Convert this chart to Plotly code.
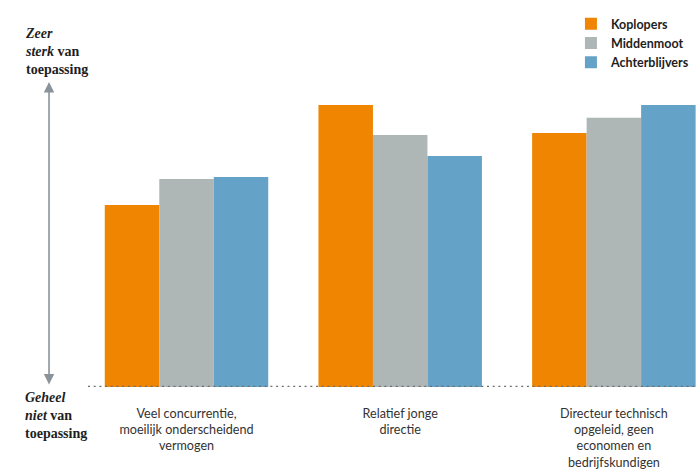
import plotly.graph_objects as go

# Categories (line breaks as they appear under each group)
categories = [
    "Veel concurrentie,<br>moeilijk onderscheidend<br>vermogen",
    "Relatief jonge<br>directie",
    "Directeur technisch<br>opgeleid, geen<br>economen en<br>bedrijfskundigen",
]

# Relative degree of application (0 = geheel niet, 100 = zeer sterk)
koplopers = [64.5, 100.0, 90.1]
middenmoot = [73.8, 89.4, 95.5]
achterblijvers = [74.5, 81.9, 100.0]

series_names = ["Koplopers", "Middenmoot", "Achterblijvers"]
series_values = [koplopers, middenmoot, achterblijvers]
series_colors = ["#EF8500", "#AFB7B6", "#64A2C7"]

fig = go.Figure()
for name, vals, col in zip(series_names, series_values, series_colors):
    fig.add_trace(go.Bar(
        x=categories, y=vals, name=name,
        marker=dict(color=col, line=dict(width=0)),
        hoverinfo="skip",
    ))

label_font = dict(family="Lato, 'Noto Sans', sans-serif", size=12.6, color="#333333")
serif_font = dict(family="'Liberation Serif', serif", size=14, color="#1e1e1e")

fig.update_layout(
    width=697, height=469,
    margin=dict(l=88, r=0, t=105, b=82),
    paper_bgcolor="white", plot_bgcolor="white",
    barmode="group", bargap=0.235, bargroupgap=0,
    showlegend=True,
    legend=dict(
        x=0.793, y=1.34, xanchor="left", yanchor="top",
        font=dict(family="Lato, 'Noto Sans', sans-serif", size=12.5,
                  color="#1e1e1e", weight="bold"),
        bgcolor="rgba(0,0,0,0)", traceorder="normal",
    ),
    xaxis=dict(
        range=[-0.461, 2.389], showgrid=False, zeroline=False,
        showline=False, ticks="", tickfont=label_font,
        ticklabelstandoff=17,
    ),
    yaxis=dict(
        range=[0, 100], visible=False, showgrid=False, zeroline=False,
    ),
)

# Dotted baseline along the bottom of the bars
fig.add_shape(
    type="line", xref="paper", yref="y", x0=0, x1=1, y0=0, y1=0,
    line=dict(color="#6E6E6E", width=2.4, dash="2px,3.7px"),
    layer="above",
)

# Double-headed scale arrow on the left
fig.add_annotation(
    xref="paper", yref="paper", x=-0.064, y=1.0816,
    axref="pixel", ayref="pixel", ax=0, ay=304,
    text="", showarrow=True, arrowhead=2, arrowside="end+start",
    arrowsize=1.3, arrowwidth=1.6, arrowcolor="#8A9399",
)

# Scale end labels
fig.add_annotation(
    xref="paper", yref="paper", x=-0.106, y=1.188,
    xanchor="left", yanchor="middle", align="left", showarrow=False,
    text="<b><i>Zeer</i><br><i>sterk</i> van<br>toepassing</b>",
    font=serif_font,
)
fig.add_annotation(
    xref="paper", yref="paper", x=-0.106, y=-0.1,
    xanchor="left", yanchor="middle", align="left", showarrow=False,
    text="<b><i>Geheel</i><br><i>niet</i> van<br>toepassing</b>",
    font=serif_font,
)

fig.write_html("out.html")
